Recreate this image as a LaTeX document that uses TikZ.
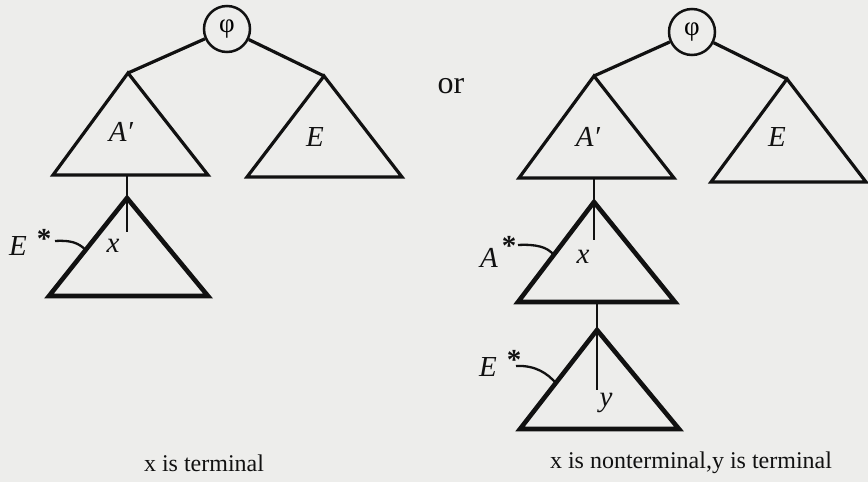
\documentclass[tikz,border=0pt]{standalone}
\usepackage{fontspec}
\setmainfont{Liberation Serif}
\usetikzlibrary{calc}
\definecolor{paper}{HTML}{EDEDEB}
\definecolor{ink}{HTML}{111111}
\begin{document}
\begin{tikzpicture}[x=1pt,y=-1pt,
  uptri/.style={draw=ink, line width=3.2pt, line join=miter},
  lowtri/.style={draw=ink, line width=4.6pt, line join=miter},
  branch/.style={draw=ink, line width=3.2pt},
  stem/.style={draw=ink, line width=2.3pt},
  hook/.style={draw=ink, line width=2.3pt},
  root/.style={circle, draw=ink, line width=2.5pt, minimum size=46pt, inner sep=0pt, font=\fontsize{27}{27}\selectfont},
  lab/.style={text=ink, font=\fontsize{29}{29}\selectfont\itshape, inner sep=0pt},
  star/.style={text=ink, font=\fontsize{29}{29}\selectfont\bfseries, inner sep=0pt},
  captext/.style={text=ink, font=\fontsize{24}{24}\selectfont, inner sep=0pt}]
\fill[paper] (0,0) rectangle (868,482);
\useasboundingbox (0,0) rectangle (868,482);

% ---------- left tree ----------
\node[root] (phiL) at (227,29) {φ};
\coordinate (aL) at (128,73);
\coordinate (aLl) at (53,175);
\coordinate (aLr) at (208,175);
\coordinate (eL) at (324,76);
\coordinate (eLl) at (247,177);
\coordinate (eLr) at (402,177);
\draw[uptri] (aL) -- (aLl) -- (aLr) -- cycle;
\draw[uptri] (eL) -- (eLl) -- (eLr) -- cycle;
\draw[branch] (phiL) -- (aL);
\draw[branch] (phiL) -- (eL);
\node[lab] (lApL) at (121,132) {A′};
\node[lab] (lEL) at (315,137) {E};

\coordinate (sLtop) at (127,175);
\coordinate (sLend) at (127,232);
\coordinate (bL) at (127,198);
\coordinate (bLl) at (49,296);
\coordinate (bLr) at (208,296);
\draw[lowtri] (bL) -- (bLl) -- (bLr) -- cycle;
\draw[stem] (sLtop) -- (sLend);
\node[lab] (lxL) at (113,246) {x};
\node[lab, anchor=west] (lEsL) at (9,242) {E\hspace{10pt}\raisebox{7pt}{\bfseries\upshape *}};
\coordinate (hsL) at (55,241);
\coordinate (heL) at ($(bL)!0.53!(bLl)$);
\draw[hook] (hsL) .. controls +(16,-1) and +(-7,-7) .. (heL);

\node[captext] (capL) at (204,463) {x is terminal};

% ---------- "or" ----------
\node[text=ink, font=\fontsize{32}{32}\selectfont, inner sep=0pt] (orw) at (451,86) {or};

% ---------- right tree ----------
\node[root] (phiR) at (692,32) {φ};
\coordinate (aR) at (594,76);
\coordinate (aRl) at (519,178);
\coordinate (aRr) at (674,178);
\coordinate (eR) at (787,79);
\coordinate (eRl) at (711,182);
\coordinate (eRr) at (866,182);
\draw[uptri] (aR) -- (aRl) -- (aRr) -- cycle;
\draw[uptri] (eR) -- (eRl) -- (eRr) -- cycle;
\draw[branch] (phiR) -- (aR);
\draw[branch] (phiR) -- (eR);
\node[lab] (lApR) at (588,137) {A′};
\node[lab] (lER) at (777,137) {E};

\coordinate (sRtop) at (594,178);
\coordinate (sRend) at (594,240);
\coordinate (cR) at (594,202);
\coordinate (cRl) at (518,302);
\coordinate (cRr) at (675,302);
\draw[lowtri] (cR) -- (cRl) -- (cRr) -- cycle;
\draw[stem] (sRtop) -- (sRend);
\node[lab] (lxR) at (583,257) {x};
\node[lab, anchor=west] (lAsR) at (480,252) {A\hspace{4pt}\raisebox{12pt}{\bfseries\upshape *}};
\coordinate (hsR) at (518,245);
\coordinate (heR) at ($(cR)!0.53!(cRl)$);
\draw[hook] (hsR) .. controls +(18,-1) and +(-6,-8) .. (heR);

\coordinate (tRtop) at (597,302);
\coordinate (tRend) at (597,390);
\coordinate (dR) at (597,330);
\coordinate (dRl) at (520,429);
\coordinate (dRr) at (679,429);
\draw[lowtri] (dR) -- (dRl) -- (dRr) -- cycle;
\draw[stem] (tRtop) -- (tRend);
\node[lab] (lyR) at (606,403) {y};
\node[lab, anchor=west] (lEsR) at (479,363) {E\hspace{10pt}\raisebox{7pt}{\bfseries\upshape *}};
\coordinate (hsR2) at (516,366);
\coordinate (heR2) at ($(dR)!0.535!(dRl)$);
\draw[hook] (hsR2) .. controls +(20,-1) and +(-8,-9) .. (heR2);

\node[captext] (capR) at (691,463) {x is nonterminal,y is terminal};
\end{tikzpicture}
\end{document}
